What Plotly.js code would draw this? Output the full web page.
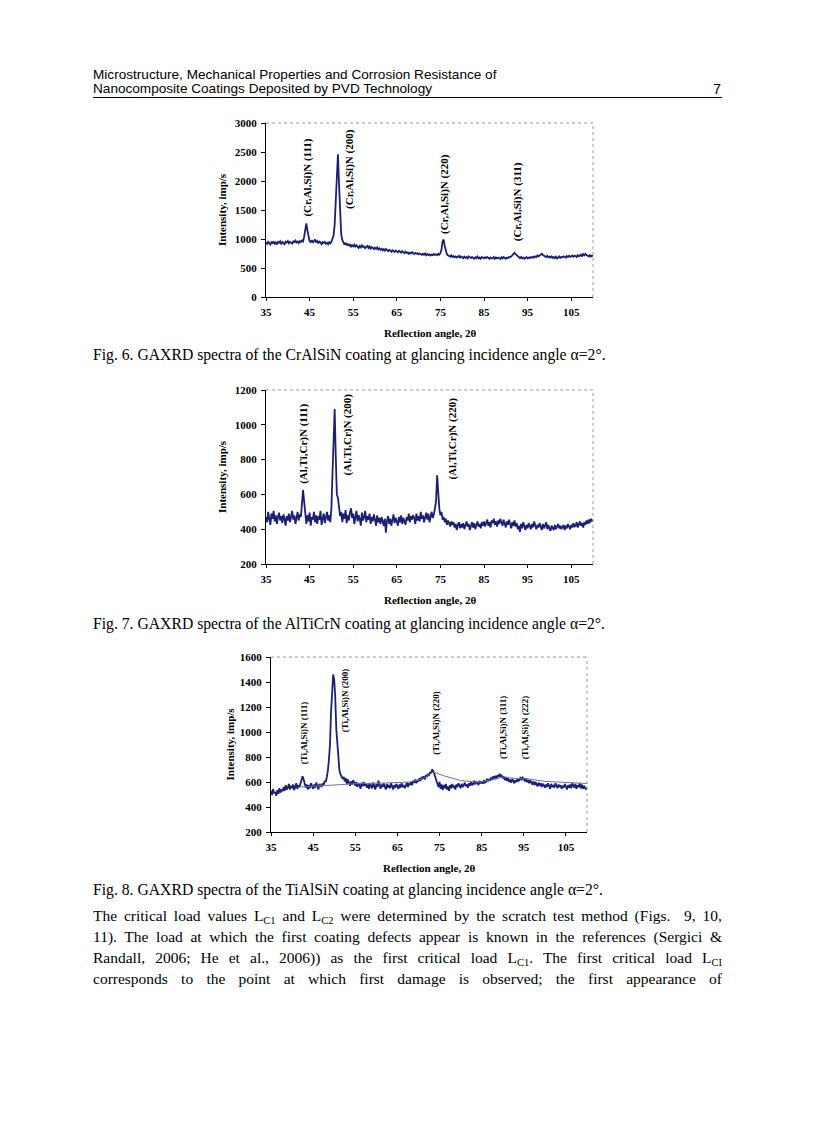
<!DOCTYPE html>
<html><head><meta charset="utf-8">
<script src="https://cdn.plot.ly/plotly-3.0.1.min.js"></script>
<style>
body{margin:0;background:#fff;}
#page{position:relative;width:816px;height:1123px;overflow:hidden;background:#fff;}
.hdr{position:absolute;left:93px;font-family:"Liberation Sans",Arial,sans-serif;font-size:13.6px;line-height:14px;color:#000;white-space:nowrap;}
.pnum{position:absolute;left:700px;width:21px;text-align:right;font-family:"Liberation Sans",Arial,sans-serif;font-size:14.5px;line-height:14px;}
.rule{position:absolute;left:93px;width:629px;height:1px;background:#000;top:97px;}
.cap{position:absolute;left:93px;font-family:"Liberation Serif","Times New Roman",serif;font-size:15.7px;line-height:18px;white-space:nowrap;color:#000;}
.pl{position:absolute;left:93px;width:629px;font-family:"Liberation Serif","Times New Roman",serif;font-size:15.5px;line-height:18px;text-align:justify;text-align-last:justify;color:#000;white-space:normal;}
.sub{font-size:10.5px;position:relative;top:3px;}
.chart{position:absolute;left:200px;width:410px;height:240px;}
</style></head><body>
<div id="page">
<div class="hdr" style="top:68px">Microstructure, Mechanical Properties and Corrosion Resistance of</div>
<div class="hdr" style="top:82px">Nanocomposite Coatings Deposited by PVD Technology</div>
<div class="pnum" style="top:82px">7</div>
<div class="rule"></div>

<div id="c1" class="chart" style="top:110px"></div>
<div class="cap" style="top:346px">Fig. 6. GAXRD spectra of the CrAlSiN coating at glancing incidence angle α=2°.</div>

<div id="c2" class="chart" style="top:377px"></div>
<div class="cap" style="top:615px">Fig. 7. GAXRD spectra of the AlTiCrN coating at glancing incidence angle α=2°.</div>

<div id="c3" class="chart" style="top:644px"></div>
<div class="cap" style="top:881px">Fig. 8. GAXRD spectra of the TiAlSiN coating at glancing incidence angle α=2°.</div>

<div class="pl" style="top:907px">The critical load values L<span class="sub">C1</span> and L<span class="sub">C2</span> were determined by the scratch test method (Figs.&nbsp; 9, 10,</div>
<div class="pl" style="top:928px">11). The load at which the first coating defects appear is known in the references (Sergici &amp;</div>
<div class="pl" style="top:949px">Randall, 2006; He et al., 2006)) as the first critical load L<span class="sub">C1</span>. The first critical load L<span class="sub">CI</span></div>
<div class="pl" style="top:970px">corresponds to the point at which first damage is observed; the first appearance of</div>
</div>

<script>
// ---- data (2θ from 35 in steps of 0.25) ----
const angleStart = 35;
const angleStep = 0.25;
const xTickVals = [35, 45, 55, 65, 75, 85, 95, 105];

const crAlSiN = [
940,915,950,925, 905,945,930,960, 920,940,905,950, 935,960,920,945, 930,910,955,940,
965,925,950,935, 920,960,945,975, 940,955,930,965, 950,975,960,1040, 1180,1270,1150,1010,
960,945,980,935, 960,990,940,965, 925,955,940,910, 945,930,950,920, 935,910,945,925,
950,990,1060,1250, 1700,2300,2460,1950, 1350,1080,985,930, 905,935,890,920, 880,910,870,895,
875,900,860,890, 870,845,880,855, 890,860,870,840, 865,880,845,870, 835,860,845,825,
850,830,855,820, 840,815,830,805, 825,800,830,810, 790,815,800,780, 805,790,775,800,
785,770,795,780, 765,790,770,755, 780,760,770,745, 765,750,775,755, 740,760,745,755,
735,750,740,725, 745,730,750,720, 740,725,735,715, 730,720,740,725, 735,720,745,730,
755,820,960,990, 880,780,735,720, 710,695,720,690, 705,685,700,680, 695,710,680,700,
685,670,695,675, 690,665,700,680, 670,690,675,660, 685,670,695,665, 680,660,690,670,
665,685,670,690, 675,660,680,665, 670,690,660,680, 665,680,670,655, 685,665,690,670,
660,680,670,690, 685,700,715,735, 760,740,720,700, 685,670,690,665, 680,660,675,690,
665,680,670,690, 675,695,680,700, 690,715,700,720, 730,745,725,710, 700,690,710,685,
695,680,700,675, 690,670,695,665, 680,700,675,690, 685,700,690,680, 705,690,710,695,
700,715,695,710, 705,690,720,700, 715,730,700,740, 720,745,725,710, 700,720,695,715,
705];

const alTiCrN = [
470,440,500,455, 425,490,460,505, 445,480,430,470, 495,450,475,435, 485,460,420,475,
450,490,440,470, 505,455,480,430, 465,500,450,485, 470,540,625,560, 470,430,480,445,
495,420,470,455, 500,440,480,430, 475,455,505,425, 460,490,435,470, 500,450,480,440,
520,720,1000,1090, 820,600,580,520, 475,500,440,490, 460,510,435,480, 450,495,520,465,
490,430,475,505, 445,480,460,420, 495,450,470,505, 440,475,455,490, 430,470,445,485,
455,420,480,440, 465,430,470,445, 420,460,380,450, 475,430,460,420, 455,485,435,465,
445,420,470,440, 480,430,465,445, 425,470,450,490, 440,475,455,480, 465,430,490,450,
475,445,500,460, 480,440,470,495, 455,490,440,475, 500,465,485,520, 560,710,610,520,
480,500,455,470, 440,460,425,450, 435,415,445,425, 440,410,430,395, 425,440,405,430,
410,435,400,420, 445,415,430,395, 420,440,410,435, 400,425,445,415, 430,405,440,420,
445,415,435,455, 420,440,410,450, 435,460,425,445, 415,450,430,460, 440,420,455,430,
410,445,425,455, 435,405,440,420, 450,415,435,400, 420,385,430,405, 440,410,395,425,
405,435,415,400, 430,410,445,420, 400,425,410,435, 415,395,430,405, 420,440,400,425,
405,390,420,410, 395,425,400,415, 430,405,420,400, 410,425,395,420, 405,430,415,400,
425,410,435,415, 420,440,410,430, 445,420,435,410, 440,425,450,430, 455,435,460,445,
455];

const tiAlSiN = [
530,495,545,510, 520,490,535,505, 550,515,540,525, 560,530,575,540, 555,585,540,570,
550,580,535,565, 590,545,575,560, 595,610,645,620, 590,555,580,540, 575,550,590,560,
545,580,555,595, 570,540,585,565, 560,590,575,610, 600,640,690,780, 900,1160,1380,1460,
1420,1280,1020,880, 760,690,660,640, 625,640,605,630, 585,620,595,570, 605,580,615,590,
570,600,560,590, 575,545,595,565, 600,570,585,555, 580,545,590,565, 550,595,570,540,
585,560,610,575, 545,580,560,590, 565,540,585,555, 575,550,590,560, 540,575,555,585,
560,545,580,555, 590,560,575,550, 570,595,560,585, 580,600,575,610, 595,620,590,615,
605,630,610,640, 625,645,620,655, 640,665,650,680, 670,700,690,660, 640,610,585,560,
600,545,580,535, 575,550,585,540, 565,530,575,550, 585,555,570,540, 580,560,590,565,
550,585,560,575, 595,565,580,555, 590,570,600,575, 585,610,580,600, 595,575,610,590,
605,585,615,595, 600,625,605,620, 610,635,620,645, 630,650,625,655, 640,665,645,655,
630,645,615,640, 610,630,600,620, 595,625,605,590, 615,600,625,605, 620,640,615,635,
625,605,630,600, 610,590,615,595, 580,605,575,600, 585,565,595,570, 590,560,585,575,
555,580,560,590, 570,545,585,560, 575,555,590,565, 550,580,560,575, 545,570,555,585,
560,540,575,555, 580,550,590,565, 555,585,545,575, 560,590,550,580, 545,570,555,540,
560];

// fitted background / profile line drawn over the TiAlSiN spectrum
const tiAlSiNFitX = [42, 47, 52, 56, 62, 68, 71, 73.5, 76, 80, 84, 88, 90, 93, 96, 100, 110];
const tiAlSiNFitY = [560, 572, 582, 588, 592, 600, 625, 680, 650, 612, 598, 620, 640, 628, 625, 605, 588];

const labels1 = ['(Cr,Al,Si)N (111)', '(Cr,Al,Si)N (200)', '(Cr,Al,Si)N (220)', '(Cr,Al,Si)N (311)'];
const labels2 = ['(Al,Ti,Cr)N (111)', '(Al,Ti,Cr)N (200)', '(Al,Ti,Cr)N (220)'];
const labels3 = ['(Ti,Al,Si)N (111)', '(Ti,Al,Si)N (200)', '(Ti,Al,Si)N (220)', '(Ti,Al,Si)N (311)', '(Ti,Al,Si)N (222)'];

const yTitle = 'Intensity, imp/s';
const xTitle = 'Reflection angle, 2θ';

// ---- drawing ----
const SERIF = '"Liberation Serif", "Times New Roman", serif';
const LINE = '#1c2075';

function chart(id, y, yr, dt, labels, pos, labSize, m, yTitleShift, extra) {
  const traces = [{
    type: 'scatter', mode: 'lines', y: y, x0: angleStart, dx: angleStep,
    line: {color: LINE, width: 1.8}, hoverinfo: 'skip'
  }];
  if (extra) traces.push(extra);
  const ann = labels.map((t, i) => ({
    text: t, x: pos[i][0], y: pos[i][1], xref: 'x', yref: 'y',
    textangle: -90, showarrow: false, xanchor: 'center', yanchor: 'middle',
    font: {family: SERIF, size: labSize, color: '#000', weight: 'bold'}
  }));
  ann.push({text: yTitle, xref: 'paper', yref: 'paper', x: 0, y: 0.5, xshift: yTitleShift,
    textangle: -90, showarrow: false, xanchor: 'center', yanchor: 'middle',
    font: {family: SERIF, size: 11, color: '#000', weight: 'bold'}});
  ann.push({text: xTitle, xref: 'paper', yref: 'paper', x: 0.5, y: 0, yshift: -36,
    showarrow: false, xanchor: 'center', yanchor: 'middle',
    font: {family: SERIF, size: 11, color: '#000', weight: 'bold'}});
  const layout = {
    width: 410, height: 240, margin: m,
    paper_bgcolor: '#fff', plot_bgcolor: '#fff', showlegend: false,
    xaxis: {range: [35, 110], tickvals: xTickVals, ticks: 'outside', ticklen: 3, tickcolor: '#000',
      showline: true, linecolor: '#000', linewidth: 1, showgrid: false, zeroline: false,
      ticklabelstandoff: 2,
      tickfont: {family: SERIF, size: 11, color: '#000', weight: 'bold'}},
    yaxis: {range: yr, dtick: dt, tick0: 0, ticks: 'outside', ticklen: 4, tickcolor: '#000',
      showline: true, linecolor: '#000', linewidth: 1, showgrid: false, zeroline: false,
      ticklabelstandoff: 2,
      tickfont: {family: SERIF, size: 11, color: '#000', weight: 'bold'}},
    shapes: [
      {type: 'line', xref: 'paper', yref: 'paper', x0: 0, x1: 1, y0: 1, y1: 1, line: {color: '#999', width: 1, dash: 'dot'}},
      {type: 'line', xref: 'paper', yref: 'paper', x0: 1, x1: 1, y0: 0, y1: 1, line: {color: '#999', width: 1, dash: 'dot'}}
    ],
    annotations: ann
  };
  Plotly.newPlot(id, traces, layout, {staticPlot: true, displayModeBar: false});
}

chart('c1', crAlSiN, [0, 3000], 500, labels1,
  [[44.5, 2066], [54.1, 2212], [75.9, 1781], [92.7, 1643]], 11,
  {l: 66, r: 17, t: 13, b: 53}, -44);

chart('c2', alTiCrN, [200, 1200], 200, labels2,
  [[43.7, 890], [53.7, 942], [77.7, 922]], 11,
  {l: 66, r: 17, t: 13, b: 53}, -44);

chart('c3', tiAlSiN, [200, 1600], 200, labels3,
  [[42.8, 996], [52.6, 1255], [74.1, 1071], [89.9, 1035], [95.2, 1035]], 9,
  {l: 71, r: 23, t: 13, b: 52}, -42,
  {type: 'scatter', mode: 'lines', x: tiAlSiNFitX, y: tiAlSiNFitY,
   line: {color: '#6a72b0', width: 1}, hoverinfo: 'skip'});
</script>
</body></html>
